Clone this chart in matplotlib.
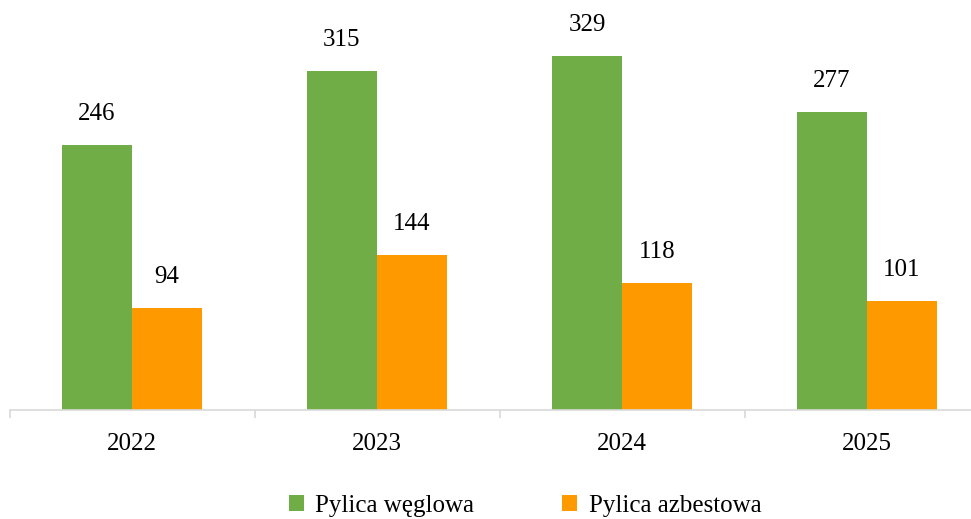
import matplotlib
matplotlib.use("Agg")
import matplotlib.pyplot as plt
from matplotlib.patches import Patch
import numpy as np

years = ["2022", "2023", "2024", "2025"]
coal = [246, 315, 329, 277]
asbestos = [94, 144, 118, 101]
series_names = ["Pylica węglowa", "Pylica azbestowa"]

GREEN = "#70AD47"
ORANGE = "#FF9900"
GRID = "#D9D9D9"

plt.rcParams["font.family"] = ["Liberation Serif", "DejaVu Serif"]

W, H, DPI = 971, 519, 100
fig = plt.figure(figsize=(W / DPI, H / DPI), dpi=DPI)

# axes spans slightly past the right edge of the canvas
left_px, right_px = 9.5, 989.5
base_px = 409.5
ax = fig.add_axes([left_px / W, (H - base_px) / H, (right_px - left_px) / W, base_px / H])

x = np.arange(len(years))
bw = 70 / 245
b1 = ax.bar(x - bw / 2, coal, bw, color=GREEN, label=series_names[0])
b2 = ax.bar(x + bw / 2, asbestos, bw, color=ORANGE, label=series_names[1])

for bars, vals in ((b1, coal), (b2, asbestos)):
    for rect, v in zip(bars, vals):
        ax.annotate(str(v), (rect.get_x() + rect.get_width() / 2, v),
                    xytext=(0, 31 * 72 / DPI), textcoords="offset points",
                    ha="center", va="center", fontsize=18, color="black")

ax.set_xlim(-0.5, len(years) - 0.5)
ax.set_ylim(0, base_px / 1.075)

for s in ("top", "right", "left"):
    ax.spines[s].set_visible(False)
ax.spines["bottom"].set_color(GRID)
ax.spines["bottom"].set_linewidth(1.2)
ax.set_yticks([])

# boundary ticks between categories
ax.set_xticks(np.arange(len(years) + 1) - 0.5, minor=True)
ax.tick_params(axis="x", which="minor", length=8 * 72 / DPI, color=GRID, width=1.2)
ax.set_xticks(x)
ax.set_xticklabels(years, fontsize=18)
ax.tick_params(axis="x", which="major", length=0, pad=23 * 72 / DPI)

handles = [Patch(facecolor=GREEN, label=series_names[0]),
           Patch(facecolor=ORANGE, label=series_names[1])]
fig.legend(handles=handles, loc="center", bbox_to_anchor=(525 / W, 1 - 506 / H),
           ncol=2, frameon=False, fontsize=18, handlelength=0.62, handleheight=0.62,
           handletextpad=0.45, columnspacing=3.5)

fig.savefig("out.png", dpi=DPI)
